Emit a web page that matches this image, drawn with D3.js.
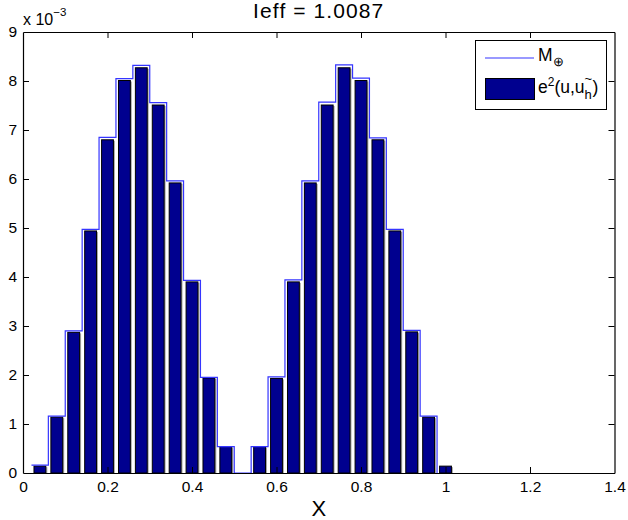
<!DOCTYPE html>
<html>
<head>
<meta charset="utf-8">
<script src="https://cdn.jsdelivr.net/npm/d3@7"></script>
<style>
  html, body { margin: 0; padding: 0; background: #fff; }
  svg { display: block; font-family: "Liberation Sans", Arial, Helvetica, sans-serif; }
</style>
</head>
<body>
<svg id="chart" width="628" height="520"></svg>
<script>
// Element centres along X
const barX = [0.04, 0.08, 0.12, 0.16, 0.20, 0.24, 0.28, 0.32, 0.36, 0.40, 0.44, 0.48, 0.52,
              0.56, 0.60, 0.64, 0.68, 0.72, 0.76, 0.80, 0.84, 0.88, 0.92, 0.96, 1.00];
// Squared error e^2(u, u_h~) per element, in units of 1e-3
const errorSq = [0.14, 1.14, 2.87, 4.94, 6.80, 8.01, 8.27, 7.51, 5.92, 3.90, 1.94, 0.54, 0.00,
                 0.54, 1.93, 3.90, 5.92, 7.51, 8.27, 8.01, 6.80, 4.94, 2.88, 1.14, 0.14];
// Estimator M (stairs), step edges and levels, in units of 1e-3
const stairX = [0.02, 0.06, 0.10, 0.14, 0.18, 0.22, 0.26, 0.30, 0.34, 0.38, 0.42, 0.46, 0.50,
                0.54, 0.58, 0.62, 0.66, 0.70, 0.74, 0.78, 0.82, 0.86, 0.90, 0.94, 0.98];
const estimatorM = [0.16, 1.16, 2.90, 4.97, 6.85, 8.05, 8.32, 7.56, 5.96, 3.93, 1.95, 0.54, 0.00,
                    0.54, 1.96, 3.94, 5.96, 7.57, 8.33, 8.06, 6.84, 4.97, 2.91, 1.16, 0.00];

const xTicks = [0, 0.2, 0.4, 0.6, 0.8, 1.0, 1.2, 1.4];
const xTickLabels = ["0", "0.2", "0.4", "0.6", "0.8", "1", "1.2", "1.4"];
const yTicks = [0, 1, 2, 3, 4, 5, 6, 7, 8, 9];
const yTickLabels = ["0", "1", "2", "3", "4", "5", "6", "7", "8", "9"];

const titleText = "Ieff = 1.0087";
const xLabelText = "X";

const svg = d3.select("#chart");
const plotLeft = 23, plotRight = 614.5, plotTop = 32, plotBottom = 473;

const x = d3.scaleLinear().domain([0, 1.4]).range([plotLeft, plotRight]);
const y = d3.scaleLinear().domain([0, 9]).range([plotBottom, plotTop]);

const barWidth = 0.028; // data units
const navy = "#00008f";
const lineBlue = "#3535ff";

// clip to plot area
svg.append("defs").append("clipPath").attr("id", "plotClip")
  .append("rect").attr("x", plotLeft).attr("y", plotTop)
  .attr("width", plotRight - plotLeft).attr("height", plotBottom - plotTop);

const plot = svg.append("g").attr("clip-path", "url(#plotClip)");
const barData = barX.map((d, i) => ({ x: d, v: errorSq[i] })).filter(d => d.v > 0);

// bar shadows
plot.append("g").selectAll("rect")
  .data(barData)
  .join("rect")
  .attr("x", d => x(d.x - barWidth / 2) + 1.5)
  .attr("y", d => y(d.v) + 1)
  .attr("width", x(barWidth) - x(0))
  .attr("height", d => y(0) - y(d.v))
  .attr("fill", "#a8a8a8");

// bars
plot.append("g").selectAll("rect")
  .data(barData)
  .join("rect")
  .attr("x", d => x(d.x - barWidth / 2))
  .attr("y", d => y(d.v))
  .attr("width", x(barWidth) - x(0))
  .attr("height", d => y(0) - y(d.v))
  .attr("fill", navy)
  .attr("stroke", "#000")
  .attr("stroke-width", 1);

// estimator stairs
const stairLine = d3.line()
  .x(d => x(d[0]))
  .y(d => y(d[1]))
  .curve(d3.curveStepAfter);
plot.append("path")
  .datum(stairX.map((d, i) => [d, estimatorM[i]]))
  .attr("d", stairLine)
  .attr("fill", "none")
  .attr("stroke", lineBlue)
  .attr("stroke-width", 1.2);

// axes (ticks pointing inward, box on)
const fmtX = d => xTickLabels[xTicks.indexOf(d)];
const fmtY = d => yTickLabels[yTicks.indexOf(d)];

const axBottom = svg.append("g").attr("transform", `translate(0,${plotBottom})`)
  .call(d3.axisBottom(x).tickValues(xTicks).tickFormat(fmtX).tickSizeInner(-6).tickSizeOuter(0).tickPadding(8));
const axTop = svg.append("g").attr("transform", `translate(0,${plotTop})`)
  .call(d3.axisTop(x).tickValues(xTicks).tickFormat("").tickSizeInner(-6).tickSizeOuter(0));
const axLeft = svg.append("g").attr("transform", `translate(${plotLeft},0)`)
  .call(d3.axisLeft(y).tickValues(yTicks).tickFormat(fmtY).tickSizeInner(-6).tickSizeOuter(0).tickPadding(6));
const axRight = svg.append("g").attr("transform", `translate(${plotRight},0)`)
  .call(d3.axisRight(y).tickValues(yTicks).tickFormat("").tickSizeInner(-6).tickSizeOuter(0));

[axBottom, axTop, axLeft, axRight].forEach(g => {
  g.selectAll("path.domain").attr("stroke", "#000").attr("stroke-width", 1.2);
  g.selectAll(".tick line").attr("stroke", "#000").attr("stroke-width", 1);
  g.selectAll(".tick text").attr("font-size", 15.5).attr("fill", "#000")
    .attr("font-family", "Liberation Sans, Arial, sans-serif");
});
// ticks at the box corners are covered by the frame
axTop.selectAll(".tick").filter(d => d === 0 || d === 1.4).select("line").remove();
axBottom.selectAll(".tick").filter(d => d === 0 || d === 1.4).select("line").remove();
axLeft.selectAll(".tick").filter(d => d === 0 || d === 9).select("line").remove();
axRight.selectAll(".tick").filter(d => d === 0 || d === 9).select("line").remove();

// exponent label
const expo = svg.append("text").attr("x", plotLeft).attr("y", 25).attr("font-size", 16).attr("fill", "#000");
expo.append("tspan").text("x 10");
expo.append("tspan").attr("dy", -9).attr("font-size", 11.5).text("\u22123");

// title
svg.append("text").attr("x", (plotLeft + plotRight) / 2).attr("y", 18)
  .attr("text-anchor", "middle").attr("font-size", 21).attr("letter-spacing", 1.1)
  .attr("fill", "#000")
  .text(titleText);

// x label
svg.append("text").attr("x", (plotLeft + plotRight) / 2).attr("y", 516)
  .attr("text-anchor", "middle").attr("font-size", 22).attr("fill", "#000")
  .text(xLabelText);

// legend
const legend = svg.append("g");
legend.append("rect").attr("x", 475.5).attr("y", 40.5).attr("width", 131).attr("height", 69)
  .attr("fill", "#fff").attr("stroke", "#000").attr("stroke-width", 1);
legend.append("line").attr("x1", 485).attr("x2", 534).attr("y1", 58).attr("y2", 58)
  .attr("stroke", lineBlue).attr("stroke-width", 1.2);
legend.append("rect").attr("x", 485.5).attr("y", 78.5).attr("width", 49).attr("height", 21)
  .attr("fill", navy).attr("stroke", "#000").attr("stroke-width", 1);

const lg1 = legend.append("text").attr("x", 538).attr("y", 61).attr("font-size", 17.5).attr("fill", "#000");
lg1.append("tspan").text("M");
lg1.append("tspan").attr("dy", 5).attr("font-size", 13).text("\u2295");

const lg2 = legend.append("text").attr("x", 538).attr("y", 93).attr("font-size", 17.5).attr("fill", "#000");
lg2.append("tspan").text("e");
lg2.append("tspan").attr("dy", -7).attr("font-size", 12).text("2");
lg2.append("tspan").attr("dy", 7).text("(u,u");
const hSub = lg2.append("tspan").attr("dy", 6).attr("font-size", 13).text("h");
const hW = hSub.node().getComputedTextLength();
lg2.append("tspan").attr("dx", -hW).attr("dy", -16).attr("font-size", 13).text("~");
lg2.append("tspan").attr("dy", 10).attr("dx", hW - 7).text(")");
</script>
</body>
</html>
